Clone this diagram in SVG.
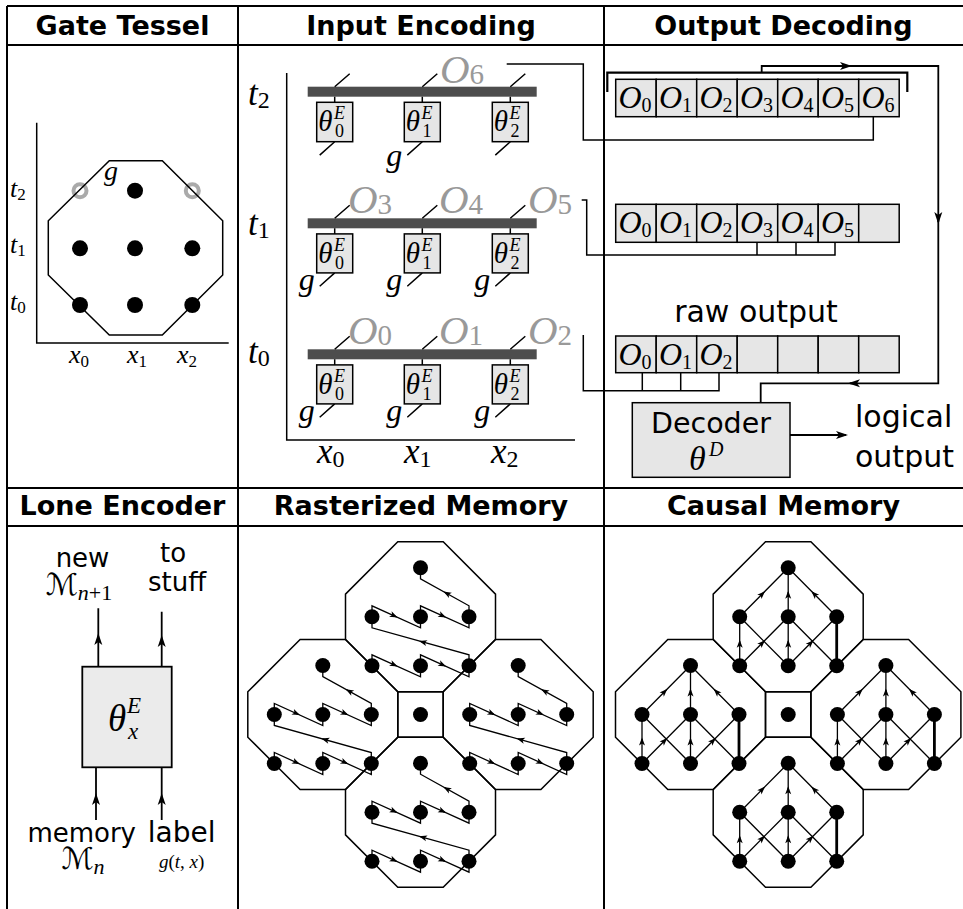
<svg xmlns="http://www.w3.org/2000/svg" width="963" height="909" viewBox="0 0 963 909">
<style>
.hd{font-family:"DejaVu Sans",sans-serif;font-weight:bold;font-size:27px;text-anchor:middle}
.sn{font-family:"DejaVu Sans",sans-serif}
.m{font-family:"Liberation Serif",serif;font-style:italic}
.up{font-style:normal}
.ln{fill:none;stroke:#000;stroke-width:1.5}
.grid{fill:none;stroke:#000;stroke-width:2}
.box{fill:#e6e6e6;stroke:#000;stroke-width:1.5}
.bar{fill:#4d4d4d}
.ga{fill:#999}
.ar{fill:none;stroke:#000;stroke-width:1.2;marker-end:url(#ah)}
.arL{fill:none;stroke:#000;stroke-width:1.8;marker-end:url(#ahL)}
</style>
<defs>
<marker id="ah" viewBox="-8 -4 10 8" markerWidth="10" markerHeight="8" refX="0" refY="0" orient="auto" markerUnits="userSpaceOnUse"><path d="M-6.5,-3 L1.5,0 L-6.5,3 L-4.5,0 Z" fill="#000"/></marker>
<marker id="ahL" viewBox="-11 -5 13 10" markerWidth="13" markerHeight="10" refX="0" refY="0" orient="auto" markerUnits="userSpaceOnUse"><path d="M-10,-4 L2,0 L-10,4 L-7,0 Z" fill="#000"/></marker>
<polygon id="oct" points="-22.7,-75 22.7,-75 75,-22.7 75,22.7 22.7,75 -22.7,75 -75,22.7 -75,-22.7" fill="none" stroke="#000" stroke-width="1.5"/>
<g id="dots7">
<circle cx="0" cy="-49" r="7.5"/><circle cx="-48.5" cy="0" r="7.5"/><circle cx="0" cy="0" r="7.5"/><circle cx="48.5" cy="0" r="7.5"/><circle cx="-48.5" cy="49" r="7.5"/><circle cx="0" cy="49" r="7.5"/><circle cx="48.5" cy="49" r="7.5"/>
</g>
<g id="rpat">
<use href="#oct"/>
<path d="M-48.5,49 V38 L0,60 V38 L48.5,60 V38 L-48.5,11 V-11 L0,11 V-11 L48.5,11 V-11 L0,-38 V-49" fill="none" stroke="#000" stroke-width="1.3"/>
<path class="ar" d="M-26.07,48.17 L-24.25,49"/>
<path class="ar" d="M22.43,48.17 L24.25,49"/>
<path class="ar" d="M1.93,25.04 L0,24.5"/>
<path class="ar" d="M-26.07,-0.83 L-24.25,0"/>
<path class="ar" d="M22.43,-0.83 L24.25,0"/>
<path class="ar" d="M26,-23.53 L24.25,-24.5"/>
<use href="#dots7"/>
</g>
<g id="cpat">
<use href="#oct"/>
<path d="M-48.5,0 L0,-49 M0,0 V-49 M48.5,0 L0,-49 M-48.5,49 V0 M-48.5,49 L0,0 M0,49 L-48.5,0 M0,49 V0 M0,49 L48.5,0 M48.5,49 L0,0" fill="none" stroke="#000" stroke-width="1.3"/>
<path d="M48.5,49 V0" fill="none" stroke="#000" stroke-width="2.8"/>
<path class="ar" d="M-25.66,-23.08 L-24.25,-24.5"/>
<path class="ar" d="M0,-22.5 L0,-24.5"/>
<path class="ar" d="M25.66,-23.08 L24.25,-24.5"/>
<path class="ar" d="M-48.5,26.5 L-48.5,24.5"/>
<path class="ar" d="M-25.66,25.92 L-24.25,24.5"/>
<path class="ar" d="M0,26.5 L0,24.5"/>
<path class="ar" d="M22.84,25.92 L24.25,24.5"/>
<use href="#dots7"/>
</g>
</defs>
<rect width="963" height="909" fill="#fff"/>

<g id="table">
<path class="grid" d="M7,6 H963 M7,45 H963 M7,488 H963 M7,526 H963 M7,6 V909 M238,6 V909 M604,6 V909"/>
<text class="hd" x="122.5" y="35">Gate Tessel</text>
<text class="hd" x="421" y="35">Input Encoding</text>
<text class="hd" x="783.5" y="35">Output Decoding</text>
<text class="hd" x="122.5" y="515">Lone Encoder</text>
<text class="hd" x="421" y="515">Rasterized Memory</text>
<text class="hd" x="783.5" y="515">Causal Memory</text>
</g>

<g id="gate-tessel">
<path class="ln" d="M36.7,122.7 V343 H228.7"/>
<circle cx="80" cy="190.7" r="6.5" fill="none" stroke="#aaa" stroke-width="4"/>
<circle cx="192.3" cy="190.7" r="6.5" fill="none" stroke="#aaa" stroke-width="4"/>
<polygon class="ln" points="109.3,160.7 162.3,160.7 222.7,220.7 222.7,275 162.3,335 109.3,335 48.3,275 48.3,220.7"/>
<circle cx="135" cy="190.7" r="8"/>
<circle cx="80" cy="248.3" r="8"/><circle cx="135" cy="248.3" r="8"/><circle cx="192.3" cy="248.3" r="8"/>
<circle cx="80" cy="305" r="8"/><circle cx="135" cy="305" r="8"/><circle cx="192.3" cy="305" r="8"/>
<text class="m" x="104" y="180" font-size="28">g</text>
<text class="m" x="10" y="197" font-size="26">t<tspan class="up" font-size="17" dy="3">2</tspan></text>
<text class="m" x="10" y="253" font-size="26">t<tspan class="up" font-size="17" dy="3">1</tspan></text>
<text class="m" x="10" y="310" font-size="26">t<tspan class="up" font-size="17" dy="3">0</tspan></text>
<text class="m" x="69" y="363" font-size="26">x<tspan class="up" font-size="17" dy="4">0</tspan></text>
<text class="m" x="127" y="363" font-size="26">x<tspan class="up" font-size="17" dy="4">1</tspan></text>
<text class="m" x="177" y="363" font-size="26">x<tspan class="up" font-size="17" dy="4">2</tspan></text>
</g>

<g id="input-encoding">
<path class="ln" d="M286.7,73 V440 H575"/>
<text class="m" x="248" y="105" font-size="35">t<tspan class="up" font-size="24" dy="3">2</tspan></text>
<text class="m" x="248" y="235" font-size="35">t<tspan class="up" font-size="24" dy="3">1</tspan></text>
<text class="m" x="248" y="363" font-size="35">t<tspan class="up" font-size="24" dy="3">0</tspan></text>
<text class="m" x="317" y="463" font-size="35">x<tspan class="up" font-size="24" dy="4">0</tspan></text>
<text class="m" x="404" y="463" font-size="35">x<tspan class="up" font-size="24" dy="4">1</tspan></text>
<text class="m" x="491" y="463" font-size="35">x<tspan class="up" font-size="24" dy="4">2</tspan></text>

<g id="row-t2">
<rect class="bar" x="307.7" y="86.7" width="229" height="10"/>
<path class="ln" d="M334.7,86.7 L349.7,73.7 M422.3,86.7 L437.3,73.7 M510.3,86.7 L525.3,73.7 M334.7,96.7 V102.3 M422.3,96.7 V102.3 M510.3,96.7 V102.3 M334.7,141.7 L319.7,155.1 M422.3,141.7 L407.3,155.1 M510.3,141.7 L495.3,155.1"/>
<g id="enc-t2-x0"><rect class="box" x="316.7" y="102.3" width="36" height="39.4"/><text class="m" x="318.2" y="131.3" font-size="29">θ</text><text class="m" x="334" y="119.3" font-size="18">E</text><text class="m up" x="335" y="137" font-size="18">0</text></g>
<g id="enc-t2-x1"><rect class="box" x="404.3" y="102.3" width="36" height="39.4"/><text class="m" x="405.8" y="131.3" font-size="29">θ</text><text class="m" x="421.6" y="119.3" font-size="18">E</text><text class="m up" x="422.6" y="137" font-size="18">1</text></g>
<g id="enc-t2-x2"><rect class="box" x="492.3" y="102.3" width="36" height="39.4"/><text class="m" x="493.8" y="131.3" font-size="29">θ</text><text class="m" x="509.6" y="119.3" font-size="18">E</text><text class="m up" x="510.6" y="137" font-size="18">2</text></g>
<text class="m" x="386.3" y="166" font-size="32">g</text>
<text class="m ga" x="440" y="83" font-size="41">O<tspan class="up" font-size="29" dy="1">6</tspan></text>
</g>

<g id="row-t1">
<rect class="bar" x="307.7" y="218.3" width="229" height="10"/>
<path class="ln" d="M334.7,218.3 L349.7,205.3 M422.3,218.3 L437.3,205.3 M510.3,218.3 L525.3,205.3 M334.7,228.3 V233.9 M422.3,228.3 V233.9 M510.3,228.3 V233.9 M334.7,272.9 L319.7,286.3 M422.3,272.9 L407.3,286.3 M510.3,272.9 L495.3,286.3"/>
<g id="enc-t1-x0"><rect class="box" x="316.7" y="233.9" width="36" height="39"/><text class="m" x="318.2" y="262.9" font-size="29">θ</text><text class="m" x="334" y="250.9" font-size="18">E</text><text class="m up" x="335" y="268.6" font-size="18">0</text></g>
<g id="enc-t1-x1"><rect class="box" x="404.3" y="233.9" width="36" height="39"/><text class="m" x="405.8" y="262.9" font-size="29">θ</text><text class="m" x="421.6" y="250.9" font-size="18">E</text><text class="m up" x="422.6" y="268.6" font-size="18">1</text></g>
<g id="enc-t1-x2"><rect class="box" x="492.3" y="233.9" width="36" height="39"/><text class="m" x="493.8" y="262.9" font-size="29">θ</text><text class="m" x="509.6" y="250.9" font-size="18">E</text><text class="m up" x="510.6" y="268.6" font-size="18">2</text></g>
<text class="m" x="298.7" y="290" font-size="32">g</text>
<text class="m" x="386.3" y="290" font-size="32">g</text>
<text class="m" x="474.3" y="290" font-size="32">g</text>
<text class="m ga" x="348" y="213" font-size="41">O<tspan class="up" font-size="29" dy="1">3</tspan></text>
<text class="m ga" x="439" y="213" font-size="41">O<tspan class="up" font-size="29" dy="1">4</tspan></text>
<text class="m ga" x="528" y="213" font-size="41">O<tspan class="up" font-size="29" dy="1">5</tspan></text>
</g>

<g id="row-t0">
<rect class="bar" x="307.7" y="349.3" width="229" height="10"/>
<path class="ln" d="M334.7,349.3 L349.7,336.3 M422.3,349.3 L437.3,336.3 M510.3,349.3 L525.3,336.3 M334.7,359.3 V364.9 M422.3,359.3 V364.9 M510.3,359.3 V364.9 M334.7,403.9 L319.7,417.3 M422.3,403.9 L407.3,417.3 M510.3,403.9 L495.3,417.3"/>
<g id="enc-t0-x0"><rect class="box" x="316.7" y="364.9" width="36" height="39"/><text class="m" x="318.2" y="393.9" font-size="29">θ</text><text class="m" x="334" y="381.9" font-size="18">E</text><text class="m up" x="335" y="399.6" font-size="18">0</text></g>
<g id="enc-t0-x1"><rect class="box" x="404.3" y="364.9" width="36" height="39"/><text class="m" x="405.8" y="393.9" font-size="29">θ</text><text class="m" x="421.6" y="381.9" font-size="18">E</text><text class="m up" x="422.6" y="399.6" font-size="18">1</text></g>
<g id="enc-t0-x2"><rect class="box" x="492.3" y="364.9" width="36" height="39"/><text class="m" x="493.8" y="393.9" font-size="29">θ</text><text class="m" x="509.6" y="381.9" font-size="18">E</text><text class="m up" x="510.6" y="399.6" font-size="18">2</text></g>
<text class="m" x="298.7" y="421" font-size="32">g</text>
<text class="m" x="386.3" y="421" font-size="32">g</text>
<text class="m" x="474.3" y="421" font-size="32">g</text>
<text class="m ga" x="348" y="344" font-size="41">O<tspan class="up" font-size="29" dy="1">0</tspan></text>
<text class="m ga" x="439" y="344" font-size="41">O<tspan class="up" font-size="29" dy="1">1</tspan></text>
<text class="m ga" x="528" y="344" font-size="41">O<tspan class="up" font-size="29" dy="1">2</tspan></text>
</g>
</g>

<g id="output-decoding">
<g id="array-t2">
<rect class="box" x="615.7" y="79.3" width="40.5" height="37.4"/><rect class="box" x="656.2" y="79.3" width="40.5" height="37.4"/><rect class="box" x="696.7" y="79.3" width="40.5" height="37.4"/><rect class="box" x="737.2" y="79.3" width="40.5" height="37.4"/><rect class="box" x="777.7" y="79.3" width="40.5" height="37.4"/><rect class="box" x="818.2" y="79.3" width="40.5" height="37.4"/><rect class="box" x="858.7" y="79.3" width="40.5" height="37.4"/>
<text class="m" x="618.5" y="108.3" font-size="32">O<tspan class="up" font-size="20" dy="3.5">0</tspan></text>
<text class="m" x="659" y="108.3" font-size="32">O<tspan class="up" font-size="20" dy="3.5">1</tspan></text>
<text class="m" x="699.5" y="108.3" font-size="32">O<tspan class="up" font-size="20" dy="3.5">2</tspan></text>
<text class="m" x="740" y="108.3" font-size="32">O<tspan class="up" font-size="20" dy="3.5">3</tspan></text>
<text class="m" x="780.5" y="108.3" font-size="32">O<tspan class="up" font-size="20" dy="3.5">4</tspan></text>
<text class="m" x="821" y="108.3" font-size="32">O<tspan class="up" font-size="20" dy="3.5">5</tspan></text>
<text class="m" x="861.5" y="108.3" font-size="32">O<tspan class="up" font-size="20" dy="3.5">6</tspan></text>
</g>
<g id="array-t1">
<rect class="box" x="615.7" y="204.3" width="40.5" height="38"/><rect class="box" x="656.2" y="204.3" width="40.5" height="38"/><rect class="box" x="696.7" y="204.3" width="40.5" height="38"/><rect class="box" x="737.2" y="204.3" width="40.5" height="38"/><rect class="box" x="777.7" y="204.3" width="40.5" height="38"/><rect class="box" x="818.2" y="204.3" width="40.5" height="38"/><rect class="box" x="858.7" y="204.3" width="40.5" height="38"/>
<text class="m" x="618.5" y="233.3" font-size="32">O<tspan class="up" font-size="20" dy="3.5">0</tspan></text>
<text class="m" x="659" y="233.3" font-size="32">O<tspan class="up" font-size="20" dy="3.5">1</tspan></text>
<text class="m" x="699.5" y="233.3" font-size="32">O<tspan class="up" font-size="20" dy="3.5">2</tspan></text>
<text class="m" x="740" y="233.3" font-size="32">O<tspan class="up" font-size="20" dy="3.5">3</tspan></text>
<text class="m" x="780.5" y="233.3" font-size="32">O<tspan class="up" font-size="20" dy="3.5">4</tspan></text>
<text class="m" x="821" y="233.3" font-size="32">O<tspan class="up" font-size="20" dy="3.5">5</tspan></text>
</g>
<g id="array-raw">
<text class="sn" x="756" y="321.7" font-size="30" text-anchor="middle">raw output</text>
<rect class="box" x="615.7" y="336" width="40.5" height="36.7"/><rect class="box" x="656.2" y="336" width="40.5" height="36.7"/><rect class="box" x="696.7" y="336" width="40.5" height="36.7"/><rect class="box" x="737.2" y="336" width="40.5" height="36.7"/><rect class="box" x="777.7" y="336" width="40.5" height="36.7"/><rect class="box" x="818.2" y="336" width="40.5" height="36.7"/><rect class="box" x="858.7" y="336" width="40.5" height="36.7"/>
<text class="m" x="618.5" y="365" font-size="32">O<tspan class="up" font-size="20" dy="3.5">0</tspan></text>
<text class="m" x="659" y="365" font-size="32">O<tspan class="up" font-size="20" dy="3.5">1</tspan></text>
<text class="m" x="699.5" y="365" font-size="32">O<tspan class="up" font-size="20" dy="3.5">2</tspan></text>
</g>
<g id="decoder">
<rect class="box" x="632.3" y="402.7" width="157.7" height="74.6"/>
<text class="sn" x="711" y="433.3" font-size="28.5" text-anchor="middle">Decoder</text>
<text class="m" x="689" y="470" font-size="34">θ</text>
<text class="m" x="709" y="456" font-size="20">D</text>
</g>
<text class="sn" x="855" y="426.7" font-size="30">logical</text>
<text class="sn" x="855" y="466.7" font-size="30">output</text>
</g>

<g id="connectors">
<path class="ln" d="M506.7,64 H583.3 V140 H873.3 V116.7"/>
<path class="ln" d="M581.7,200 H586.7 V255 H835 V242.3 M757,255 V242.3 M796,255 V242.3"/>
<path class="ln" d="M583.3,335 V390.7 H719 V372.7 M642.3,390.7 V372.7 M680.7,390.7 V372.7"/>
<path fill="none" stroke="#000" stroke-width="2.2" d="M607.3,92 V72.7 H907.3 V92"/>
<path fill="none" stroke="#000" stroke-width="1.8" d="M761.7,72.7 V66 H938.3 V383.3 H760.7 V402.7"/>
<path class="arL" d="M845,66 H850"/>
<path class="arL" d="M938.3,217 V222"/>
<path class="arL" d="M855,383.3 H850"/>
<path class="arL" d="M790,435 H846"/>
<path class="arL" d="M98.3,666.7 V608.3 M98.3,640 V635"/>
<path class="arL" d="M161.7,666.7 V611.7 M161.7,642 V637"/>
<path class="arL" d="M96,820 V767.3 M96,800 V795"/>
<path class="arL" d="M161.7,820 V767.3 M161.7,800 V795"/>
</g>

<g id="lone-encoder">
<rect x="82.3" y="666.7" width="89.4" height="100.6" fill="#ebebeb" stroke="#000" stroke-width="1.8"/>
<text class="m" x="108" y="731" font-size="37">θ</text>
<text class="m" x="127" y="713" font-size="23">E</text>
<text class="m" x="128" y="739" font-size="23">x</text>
<text class="sn" x="82.5" y="567" font-size="26" text-anchor="middle">new</text>
<text x="79" y="595" font-size="30" text-anchor="middle"><tspan font-family="DejaVu Sans, Noto Sans, sans-serif">ℳ</tspan><tspan class="m" font-size="22" dy="5">n</tspan><tspan class="m up" font-size="22">+1</tspan></text>
<text class="sn" x="173" y="562" font-size="26" text-anchor="middle">to</text>
<text class="sn" x="177" y="591" font-size="26" text-anchor="middle">stuff</text>
<text class="sn" x="81.7" y="842" font-size="26" text-anchor="middle">memory</text>
<text x="83" y="869" font-size="30" text-anchor="middle"><tspan font-family="DejaVu Sans, Noto Sans, sans-serif">ℳ</tspan><tspan class="m" font-size="22" dy="5">n</tspan></text>
<text class="sn" x="181.7" y="842" font-size="28" text-anchor="middle">label</text>
<text class="m" x="181.7" y="868" font-size="19" text-anchor="middle">g<tspan class="up">(</tspan>t<tspan class="up">, </tspan>x<tspan class="up">)</tspan></text>
</g>

<g id="rasterized-memory">
<use href="#rpat" x="420.5" y="616.8"/>
<use href="#rpat" x="322.8" y="714.5"/>
<use href="#rpat" x="518.2" y="714.5"/>
<use href="#rpat" x="420.5" y="812.2"/>
<rect x="397.8" y="691.8" width="45.4" height="45.4" fill="none" stroke="#000" stroke-width="1.5"/>
<circle cx="420.5" cy="714.5" r="7.5"/>
</g>

<g id="causal-memory">
<use href="#cpat" x="788.2" y="616.8"/>
<use href="#cpat" x="690.5" y="714.5"/>
<use href="#cpat" x="885.9" y="714.5"/>
<use href="#cpat" x="788.2" y="812.2"/>
<rect x="765.5" y="691.8" width="45.4" height="45.4" fill="none" stroke="#000" stroke-width="1.5"/>
<circle cx="788.2" cy="714.5" r="7.5"/>
</g>
</svg>
